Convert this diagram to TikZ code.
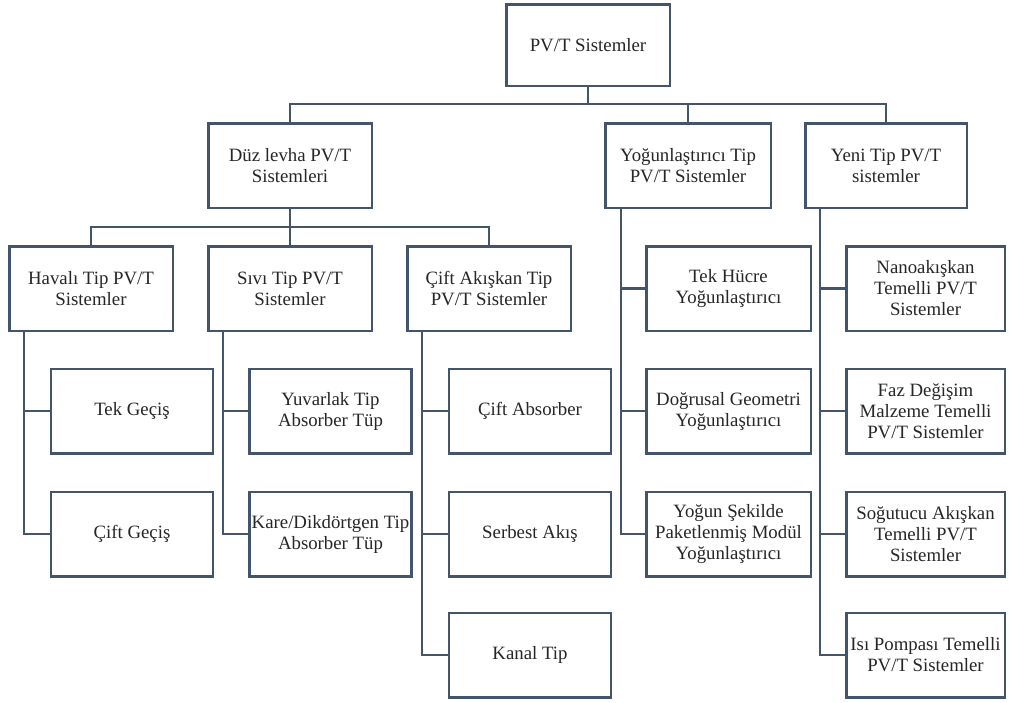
\documentclass[tikz,border=0pt]{standalone}
\usepackage{fontspec}
\newfontfamily\tnr{LiberationSerif}[Extension=.ttf, UprightFont=*-Regular, BoldFont=*-Bold]
\definecolor{lc}{HTML}{44546A}
\definecolor{tc}{HTML}{262626}
\tikzset{
  box/.style={draw=lc, line width=2.5pt, fill=white, align=center, text=tc,
    font=\tnr\fontsize{18.8}{21}\selectfont, inner sep=1pt,
    minimum width=163.5pt, minimum height=84.5pt},
  kid/.style={box, minimum width=162pt},
  conn/.style={draw=lc, line width=2.5pt}
}
\begin{document}
\begin{tikzpicture}[x=1pt,y=-1pt]
\useasboundingbox (0,0) rectangle (1009,702);
% level 1
\node[box, minimum height=81.5pt] (root) at (588,45) {PV/T Sistemler};
% level 2
\node[box] (duz) at (290,165.5) {Düz levha PV/T\\Sistemleri};
\node[box, minimum width=165.5pt] (yog) at (688,165.5) {Yoğunlaştırıcı Tip\\PV/T Sistemler};
\node[box, minimum width=161.5pt] (yeni) at (886,165.5) {Yeni Tip PV/T\\sistemler};
% level 3
\node[box] (hav) at (91,288.5) {Havalı Tip PV/T\\Sistemler};
\node[box] (siv) at (290,288.5) {Sıvı Tip PV/T\\Sistemler};
\node[box] (cak) at (489,288.5) {Çift Akışkan Tip\\PV/T Sistemler};
% Havalı children
\node[kid] (tg) at (132,411) {Tek Geçiş};
\node[kid] (cg) at (132,534) {Çift Geçiş};
% Sıvı children
\node[kid] (yuv) at (330.5,411) {Yuvarlak Tip\\Absorber Tüp};
\node[kid] (kare) at (330.5,534) {Kare/Dikdörtgen Tip\\Absorber Tüp};
% Çift akışkan children
\node[kid] (cab) at (530,411) {Çift Absorber};
\node[kid] (ser) at (530,534) {Serbest Akış};
\node[kid] (kan) at (530,655) {Kanal Tip};
% Yoğunlaştırıcı children
\node[kid, minimum width=164.5pt] (tek) at (728.5,288.5) {Tek Hücre\\Yoğunlaştırıcı};
\node[kid, minimum width=164.5pt] (dog) at (728.5,411) {Doğrusal Geometri\\Yoğunlaştırıcı};
\node[kid, minimum width=164.5pt] (yse) at (728.5,534) {Yoğun Şekilde\\Paketlenmiş Modül\\Yoğunlaştırıcı};
% Yeni children
\node[kid, minimum width=158.5pt] (nano) at (925.5,288.5) {Nanoakışkan\\Temelli PV/T\\Sistemler};
\node[kid, minimum width=158.5pt] (faz) at (925.5,411) {Faz Değişim\\Malzeme Temelli\\PV/T Sistemler};
\node[kid, minimum width=158.5pt] (sog) at (925.5,534) {Soğutucu Akışkan\\Temelli PV/T\\Sistemler};
\node[kid, minimum width=158.5pt] (isi) at (925.5,655) {Isı Pompası Temelli\\PV/T Sistemler};
% connectors level 1 -> 2
\coordinate (bar1) at (588,104);
\draw[conn] (root.south) -- (root.south |- bar1);
\draw[conn] (duz.north) |- (yeni.north |- bar1) -- (yeni.north);
\draw[conn] (yog.north) -- (yog.north |- bar1);
% Düz -> level 3
\coordinate (bar2) at (290,227);
\draw[conn] (duz.south) -- (duz.south |- bar2);
\draw[conn] (hav.north) |- (cak.north |- bar2) -- (cak.north);
\draw[conn] (siv.north) -- (siv.north |- bar2);
% spines
\coordinate (sh) at ([xshift=15.75pt]hav.south west);
\draw[conn] (sh) |- (cg.west);
\draw[conn] (tg.west) -- (tg.west -| sh);
\coordinate (ss) at ([xshift=15.75pt]siv.south west);
\draw[conn] (ss) |- (kare.west);
\draw[conn] (yuv.west) -- (yuv.west -| ss);
\coordinate (sc) at ([xshift=15.75pt]cak.south west);
\draw[conn] (sc) |- (kan.west);
\draw[conn] (cab.west) -- (cab.west -| sc);
\draw[conn] (ser.west) -- (ser.west -| sc);
\coordinate (sy) at ([xshift=16.75pt]yog.south west);
\draw[conn] (sy) |- (yse.west);
\draw[conn] (tek.west) -- (tek.west -| sy);
\draw[conn] (dog.west) -- (dog.west -| sy);
\coordinate (sn) at ([xshift=15.75pt]yeni.south west);
\draw[conn] (sn) |- (isi.west);
\draw[conn] (nano.west) -- (nano.west -| sn);
\draw[conn] (faz.west) -- (faz.west -| sn);
\draw[conn] (sog.west) -- (sog.west -| sn);
\end{tikzpicture}
\end{document}
